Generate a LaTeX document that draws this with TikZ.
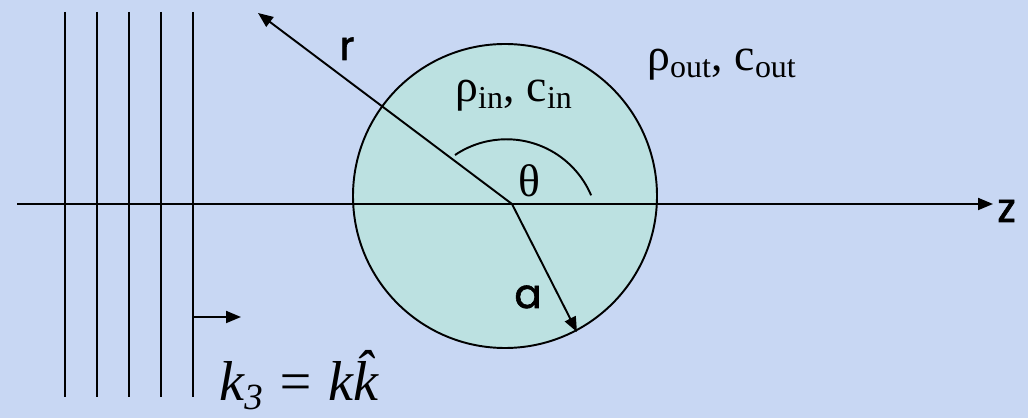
\documentclass[tikz,border=0pt]{standalone}
\usepackage{fontspec}
\setmainfont{Liberation Serif}
\newfontfamily\labelfont{Poppins}[FakeBold=1.5]
\usepackage{tikz}
\usetikzlibrary{arrows.meta}
\definecolor{slidebg}{HTML}{C8D7F3}
\definecolor{ballfill}{HTML}{BCE1E1}
\tikzset{
  thinline/.style={black, line width=1.1pt},
  arrowline/.style={black, line width=1.1pt, -{Triangle[length=0.3cm,width=0.24cm]}},
  serifnode/.style={font=\fontsize{26}{30}\selectfont, inner sep=0pt},
  sansnode/.style={font=\labelfont\fontsize{23}{27}\selectfont, inner sep=0pt},
  wavenode/.style={font=\itshape\fontsize{32}{36}\selectfont, inner sep=0pt}
}

\begin{document}
\begin{tikzpicture}[x=0.02cm, y=-0.02cm]
  \fill[slidebg] (0,0) rectangle (1028,418);
  \useasboundingbox (0,0) rectangle (1028,418);
  % sphere
  \draw[thinline, fill=ballfill] (505,196) circle[radius=152];
  % plane wave fronts
  \foreach \x [count=\i] in {65,97,129,161,193} {
    \coordinate (top\i) at (\x,12);
    \coordinate (bot\i) at (\x,397);
    \draw[thinline] (top\i) -- (bot\i);
  }
  \coordinate (origin) at (512,204);
  \coordinate (zstart) at (17,204);
  \coordinate (ztip) at (993,204);
  \coordinate (rtip) at (258,13);
  \coordinate (atip) at (577,332);
  \coordinate (kstart) at (193,317);
  \coordinate (kend) at (241,317);
  \draw[arrowline] (zstart) -- (ztip);
  \draw[arrowline] (origin) -- (rtip);
  \draw[arrowline] (origin) -- (atip);
  \draw[arrowline] (kstart) -- (kend);
  \draw[thinline] (455,155) arc[start angle=-124, end angle=-23, radius=92];
  % labels
  \node[sansnode, anchor=base] (rlabel) at (347,60) {r};
  \node[sansnode, anchor=base] (alabel) at (528,308) {a};
  \node[sansnode, anchor=base west] (zlabel) at (997,222) {z};
  \node[serifnode, anchor=base] (theta) at (529,197) {θ};
  \node[serifnode, anchor=base west] (inside) at (455,102) {ρ\textsubscript{in}, c\textsubscript{in}};
  \node[serifnode, anchor=base west] (outside) at (647,71) {ρ\textsubscript{out}, c\textsubscript{out}};
  \node[wavenode, anchor=base west] (kvec) at (219,401)
    {k\raisebox{-0.18cm}{\fontsize{21}{24}\selectfont 3} = k\^{k}};
\end{tikzpicture}
\end{document}
